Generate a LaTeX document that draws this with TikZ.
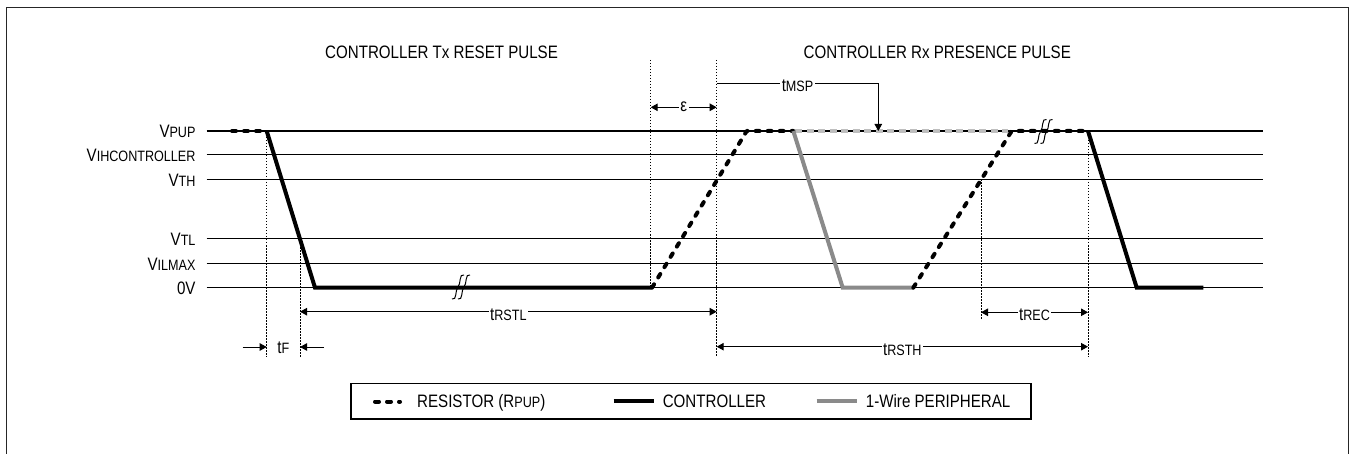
\documentclass[tikz,border=0pt]{standalone}
\usepackage{fontspec}
\setmainfont{Liberation Sans}[FakeStretch=0.84]
\usetikzlibrary{arrows.meta}
\newcommand{\sbs}[1]{{\fontsize{15}{15}\selectfont #1}}
\definecolor{perigray}{RGB}{138,138,138}
\definecolor{litegray}{RGB}{190,190,190}
\begin{document}
\begin{tikzpicture}[x=1pt,y=-1pt,
  every node/.style={font=\fontsize{18}{21}\selectfont, inner sep=0pt},
  lvl/.style={line width=1.2pt},
  ctrl/.style={line width=4pt, line join=miter},
  res/.style={line width=4pt, dash pattern=on 4pt off 8pt, line cap=round, line join=round},
  literes/.style={line width=3.5pt, litegray, dash pattern=on 7pt off 4.5pt},
  peri/.style={line width=4pt, perigray, line join=miter},
  dotv/.style={line width=0.9pt, dash pattern=on 1.5pt off 1.5pt},
  dim/.style={line width=1pt, {Triangle[length=7pt,width=7.5pt]}-{Triangle[length=7pt,width=7.5pt]}},
  dimend/.style={line width=1pt, -{Triangle[length=7pt,width=7.5pt]}},
  lab/.style={fill=white, inner xsep=1.5pt, inner ysep=0.5pt, anchor=base},
  vlab/.style={anchor=base east},
  brk/.pic={
    \draw[line width=1pt] (-9,12) .. controls (-4,14) and (-6,3) .. (-3,0) .. controls (0,-3) and (-2,-14) .. (3,-12);
    \draw[line width=1pt] (-3,12) .. controls (2,14) and (0,3) .. (3,0) .. controls (6,-3) and (4,-14) .. (9,-12);
  }
]
\useasboundingbox (0,0) rectangle (1351,454);
% frame
\draw[line width=1.5pt, black!85] (6.5,470) -- (6.5,7.5) -- (1348.7,7.5) -- (1348.7,470);

% titles
\node[anchor=base west] (t1) at (325,59) {CONTROLLER Tx RESET PULSE};
\node[anchor=base west] (t2) at (803.5,59) {CONTROLLER Rx PRESENCE PULSE};

% level coordinates
\coordinate (Lpup) at (206.7,131);
\coordinate (Lih) at (206.7,154.3);
\coordinate (Lth) at (206.7,179.3);
\coordinate (Ltl) at (206.7,238.3);
\coordinate (Lil) at (206.7,263.3);
\coordinate (Lzero) at (206.7,287.7);
\foreach \c in {Lpup,Lih,Lth,Ltl,Lil,Lzero}{
  \draw[lvl] (\c) -- ++(1056,0);
}
\node[vlab] (vpup) at (195.7,138) {V\sbs{PUP}};
\node[vlab] (vih) at (195.7,161.3) {V\sbs{IHCONTROLLER}};
\node[vlab] (vth) at (195.7,186.3) {V\sbs{TH}};
\node[vlab] (vtl) at (195.7,245.3) {V\sbs{TL}};
\node[vlab] (vil) at (195.7,270.3) {V\sbs{ILMAX}};
\node[vlab] (v0) at (195.7,294.7) {0V};

% dotted verticals
\draw[dotv] (266.7,131) -- (266.7,357);
\draw[dotv] (300,238.3) -- (300,357);
\draw[dotv] (650.7,60) -- (650.7,287.7);
\draw[dotv] (716.7,60) -- (716.7,357);
\draw[dotv] (981,179.3) -- (981,320);
\draw[dotv] (1088,131) -- (1088,357);

% waveforms
\draw[res] (232,131) -- (262,131);
\draw[ctrl] (266.7,131) -- (315,287.7) -- (651.7,287.7);
\draw[literes] (795,131) -- (1008,131);
\draw[res] (652,287.7) -- (746.7,131) -- (793.3,131);
\draw[peri] (793.3,131) -- (842.7,287.7) -- (913.3,287.7);
\draw[res] (913.3,287.7) -- (1011.7,131) -- (1088,131);
\draw[ctrl] (1088,131) -- (1136.7,287.7) -- (1203.3,287.7);

% breaks
\pic at (461,287) {brk};
\pic at (1043.5,131.5) {brk};

% timing annotations
\coordinate (tfa) at (242.7,347);
\coordinate (tfb) at (266.7,347);
\coordinate (tfc) at (324,347);
\coordinate (tfd) at (300,347);
\draw[dimend] (tfa) -- (tfb);
\draw[dimend] (tfc) -- (tfd);
\node[anchor=base] (tf) at (283.3,353) {t\sbs{F}};

\coordinate (rsl1) at (300,311.7);
\coordinate (rsl2) at (716.7,311.7);
\draw[dim] (rsl1) -- (rsl2);
\node[lab] (trstl) at (508.3,320) {t\sbs{RSTL}};

\coordinate (rsh1) at (716.7,346.7);
\coordinate (rsh2) at (1088,346.7);
\draw[dim] (rsh1) -- (rsh2);
\node[lab] (trsth) at (902.3,355) {t\sbs{RSTH}};

\coordinate (rec1) at (981,312.3);
\coordinate (rec2) at (1088,312.3);
\draw[dim] (rec1) -- (rec2);
\node[lab] (trec) at (1034.5,320.5) {t\sbs{REC}};

\coordinate (ep1) at (650.7,107.3);
\coordinate (ep2) at (716.7,107.3);
\draw[dim] (ep1) -- (ep2);
\node[lab] (eps) at (683.7,112) {ε};

\coordinate (msp1) at (716.7,83.3);
\coordinate (msp2) at (878.3,83.3);
\coordinate (msp3) at (878.3,131);
\draw[dimend] (msp1) -- (msp2) -- (msp3);
\node[lab] (tmsp) at (797.5,92) {t\sbs{MSP}};

% legend
\draw[line width=1.2pt] (351,383.5) rectangle (1031,419);
\coordinate (lg1a) at (375,401.5);
\coordinate (lg1b) at (400,401.5);
\draw[res] (lg1a) -- (lg1b);
\node[anchor=base west] (lgt1) at (417,407.5) {RESISTOR (R\sbs{PUP})};
\coordinate (lg2a) at (613.5,401);
\coordinate (lg2b) at (653.7,401);
\draw[ctrl] (lg2a) -- (lg2b);
\node[anchor=base west] (lgt2) at (662.6,407.5) {CONTROLLER};
\coordinate (lg3a) at (816.6,401);
\coordinate (lg3b) at (856.8,401);
\draw[peri] (lg3a) -- (lg3b);
\node[anchor=base west] (lgt3) at (865.7,407.5) {1-Wire PERIPHERAL};
\end{tikzpicture}
\end{document}
